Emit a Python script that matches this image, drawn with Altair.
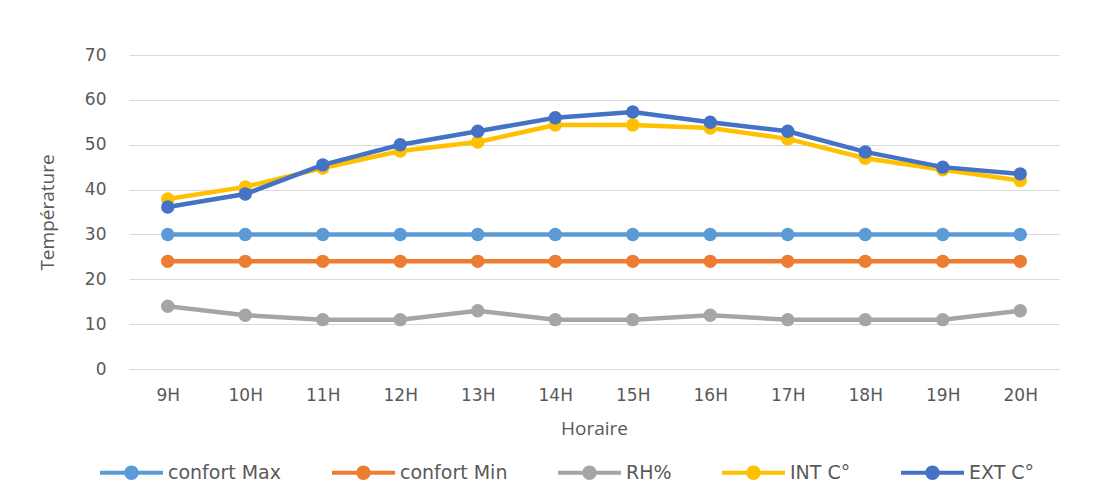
import altair as alt
import pandas as pd

hours = ["9H", "10H", "11H", "12H", "13H", "14H", "15H", "16H", "17H", "18H", "19H", "20H"]
confort_max = [30] * 12
confort_min = [24] * 12
rh = [14, 12, 11, 11, 13, 11, 11, 12, 11, 11, 11, 13]
int_c = [37.9, 40.6, 44.8, 48.6, 50.6, 54.4, 54.4, 53.7, 51.3, 47.0, 44.4, 42.0]
ext_c = [36.1, 39.0, 45.5, 50.0, 53.0, 56.0, 57.3, 55.0, 53.0, 48.4, 45.0, 43.5]

series_names = ["confort Max", "confort Min", "RH%", "INT C°", "EXT C°"]
series_values = [confort_max, confort_min, rh, int_c, ext_c]
colors = ["#5B9BD5", "#ED7D31", "#A5A5A5", "#FFC000", "#4472C4"]

rows = []
for name, vals in zip(series_names, series_values):
    for h, v in zip(hours, vals):
        rows.append({"Horaire": h, "value": v, "series": name})
df = pd.DataFrame(rows)

x = alt.X("Horaire:N", sort=hours, title="Horaire",
          scale=alt.Scale(paddingOuter=0.5),
          axis=alt.Axis(labelAngle=0, ticks=False, domain=False, grid=False,
                        labelPadding=18, titlePadding=16))
y = alt.Y("value:Q", title="Température",
          scale=alt.Scale(domain=[0, 70]),
          axis=alt.Axis(values=[0, 10, 20, 30, 40, 50, 60, 70], ticks=False, domain=False,
                        labelPadding=23, titlePadding=27))
color = alt.Color("series:N", sort=series_names,
                  scale=alt.Scale(domain=series_names, range=colors),
                  legend=alt.Legend(title=None, orient="none", direction="horizontal",
                                    columns=5, legendX=-29, legendY=386))

sym = ("M-1,-0.065L1,-0.065L1,0.065L-1,0.065Z "
       "M-0.23,0A0.23,0.23 0 1,1 0.23,0A0.23,0.23 0 1,1 -0.23,0Z")

layers = []
for name in series_names:
    sub = alt.Chart(df).transform_filter(alt.datum.series == name)
    layers.append(sub.mark_line(strokeWidth=4.5).encode(x=x, y=y, color=color))
    layers.append(sub.mark_point(filled=True, size=180, opacity=1).encode(x=x, y=y, color=color))

chart = alt.layer(*layers).properties(
    width=930, height=314,
    padding={"left": 30, "top": 38, "right": 20, "bottom": 5},
    background="white",
).configure_view(stroke=None).configure_axis(
    gridColor="#D9D9D9", gridWidth=1,
    labelFont="DejaVu Sans", labelFontSize=17, labelColor="#595959",
    titleFont="Open Sans", titleFontSize=19, titleColor="#595959", titleFontWeight="normal",
).configure_axisY(grid=True).configure_legend(
    symbolType=sym, symbolSize=3969, symbolStrokeWidth=0, symbolOffset=0,
    labelFont="DejaVu Sans", labelFontSize=19, labelColor="#595959",
    columnPadding=50, labelOffset=5, symbolOpacity=1,
)

chart.save("out.html", embed_options={"renderer": "svg", "actions": False})
